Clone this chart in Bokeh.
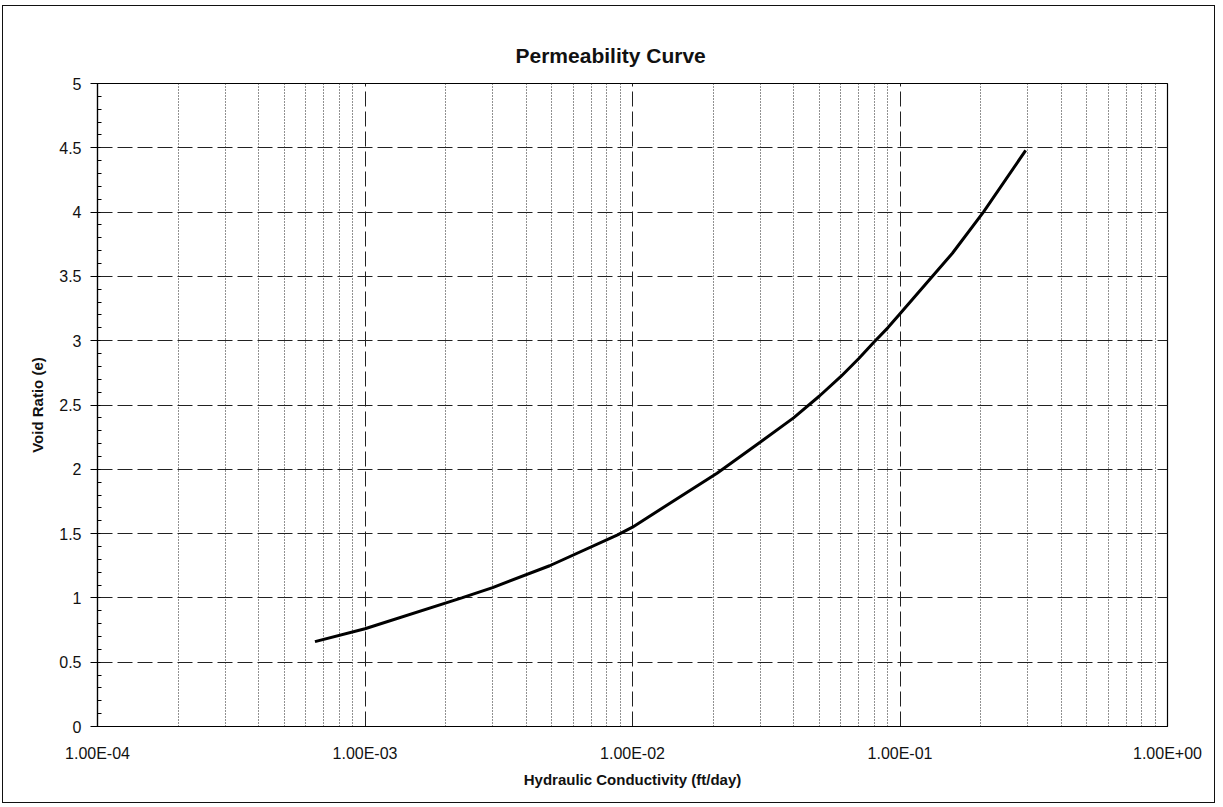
from bokeh.plotting import figure
from bokeh.models import Range1d, FixedTicker, CustomJSTickFormatter
from bokeh.embed import file_html
from bokeh.resources import INLINE

# ---- data ----
conductivity = [6.5e-4, 1.0e-3, 2.3e-3, 3.0e-3, 4.9e-3, 8.8e-3, 1.0e-2,
                2.07e-2, 3.0e-2, 4.0e-2, 5.0e-2, 6.0e-2, 7.0e-2, 8.0e-2,
                9.0e-2, 1.0e-1, 1.32e-1, 1.57e-1, 2.05e-1, 2.95e-1]
void_ratio = [0.66, 0.76, 1.0, 1.08, 1.25, 1.49, 1.55,
              1.97, 2.21, 2.40, 2.57, 2.72, 2.86, 2.99,
              3.1, 3.21, 3.5, 3.68, 4.0, 4.48]

x_tick_values = [1e-4, 1e-3, 1e-2, 1e-1, 1e0]
x_tick_labels = ["1.00E-04", "1.00E-03", "1.00E-02", "1.00E-01", "1.00E+00"]
x_minor_values = [m * d for d in [1e-4, 1e-3, 1e-2, 1e-1] for m in range(2, 10)]
y_tick_values = [0, 0.5, 1, 1.5, 2, 2.5, 3, 3.5, 4, 4.5, 5]
y_tick_labels = ["0", "0.5", "1", "1.5", "2", "2.5", "3", "3.5", "4", "4.5", "5"]
y_minor_values = [i / 10 for i in range(0, 51) if i % 5 != 0]

title_text = "Permeability Curve"
x_title = "Hydraulic Conductivity (ft/day)"
y_title = "Void Ratio (e)"

FONT = "Liberation Sans"

p = figure(width=1213, height=798, x_axis_type="log",
           x_range=Range1d(1e-4, 1), y_range=Range1d(0, 5),
           output_backend="svg", toolbar_location=None,
           min_border_left=94, min_border_right=49,
           min_border_top=77, min_border_bottom=78)
p.styles = {"border": "1px solid #111", "margin-left": "2px", "margin-top": "5px"}
p.background_fill_color = "white"
p.border_fill_color = "white"
p.outline_line_color = "black"
p.outline_line_width = 1.2

# title
p.title.text = title_text
p.title.text_font = FONT
p.title.text_font_style = "bold"
p.title.text_font_size = "21px"
p.title.text_color = "#111"
p.title.align = "left"
p.title.offset = 418
p.title.standoff = 34

# axes
p.xaxis.ticker = FixedTicker(ticks=x_tick_values, minor_ticks=x_minor_values)
p.yaxis.ticker = FixedTicker(ticks=y_tick_values, minor_ticks=y_minor_values)
fmt_code = """
let best = 0, bd = Infinity;
for (let i = 0; i < vals.length; i++) {
  const d = Math.abs(Math.log10(Math.abs(tick) + 1e-12) - Math.log10(Math.abs(vals[i]) + 1e-12));
  const d2 = Math.abs(tick - vals[i]);
  const dd = islog ? d : d2;
  if (dd < bd) { bd = dd; best = i; }
}
return labs[best];
"""
p.xaxis.formatter = CustomJSTickFormatter(args=dict(vals=x_tick_values, labs=x_tick_labels, islog=True), code=fmt_code)
p.yaxis.formatter = CustomJSTickFormatter(args=dict(vals=y_tick_values, labs=y_tick_labels, islog=False), code=fmt_code)

for ax in (p.xaxis, p.yaxis):
    ax.axis_line_color = "black"
    ax.axis_line_width = 1.2
    ax.major_label_text_font = FONT
    ax.major_label_text_font_size = "16px"
    ax.major_label_text_color = "#111"
    ax.axis_label_text_font = FONT
    ax.axis_label_text_font_style = "bold"
    ax.axis_label_text_font_size = "15px"
    ax.axis_label_text_color = "#111"

p.xaxis.major_tick_in = 0
p.xaxis.major_tick_out = 0
p.xaxis.minor_tick_in = 0
p.xaxis.minor_tick_out = 0
p.xaxis.major_label_standoff = 18
p.xaxis.axis_label = x_title
p.xaxis.axis_label_standoff = 6

p.yaxis.major_tick_in = 3
p.yaxis.major_tick_out = 7
p.yaxis.major_tick_line_color = "black"
p.yaxis.minor_tick_in = 4
p.yaxis.minor_tick_out = 0
p.yaxis.minor_tick_line_color = "black"
p.yaxis.major_label_standoff = 9
p.yaxis.axis_label = y_title
p.yaxis.axis_label_standoff = 10

# grid
p.xgrid.grid_line_color = "#222"
p.xgrid.grid_line_width = 1
p.xgrid.grid_line_dash = "15 5"
p.xgrid.minor_grid_line_color = "#222"
p.xgrid.minor_grid_line_width = 1
p.xgrid.minor_grid_line_dash = "1 2"
p.ygrid.grid_line_color = "#222"
p.ygrid.grid_line_width = 1
p.ygrid.grid_line_dash = "15 5"
p.ygrid.minor_grid_line_color = None

# curve
p.line(conductivity, void_ratio, line_color="black", line_width=3)

open("out.html", "w").write(file_html(p, INLINE))
